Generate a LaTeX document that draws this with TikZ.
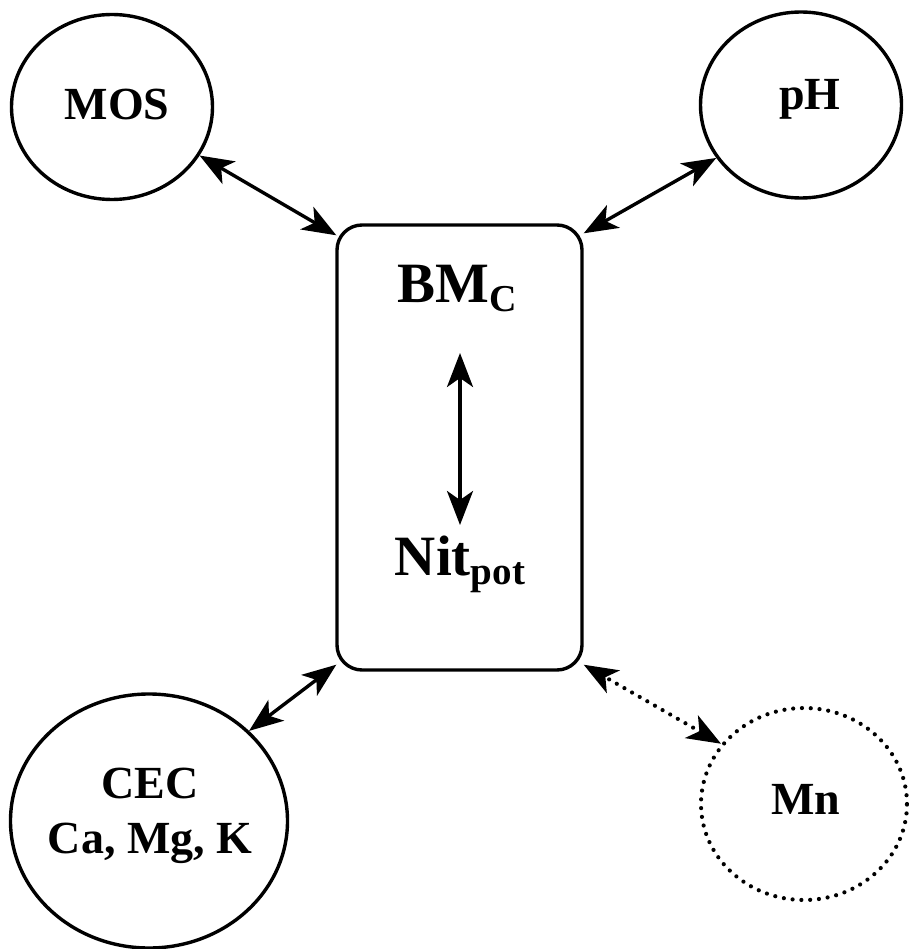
\documentclass[tikz,border=0pt]{standalone}
\usepackage{fontspec}
\setmainfont{Liberation Serif}
\usetikzlibrary{arrows.meta,shapes.geometric,calc}
\begin{document}
\begin{tikzpicture}[x=1pt,y=-1pt,
  bub/.style={ellipse,draw,line width=3.4pt,inner sep=0pt},
  dotbub/.style={ellipse,draw,line width=4.2pt,inner sep=0pt,line cap=round,dash pattern=on 0pt off 8.8pt},
  lbl/.style={font=\bfseries\fontsize{46}{50}\selectfont,inner sep=0pt,anchor=base},
  big/.style={font=\bfseries\fontsize{57}{60}\selectfont,inner sep=0pt,anchor=base},
  mytip/.tip={Stealth[length=34pt,width=26pt,inset=9pt]},
  link/.style={line width=3.4pt,mytip-mytip},
  dotlink/.style={line width=4.2pt,line cap=round,dash pattern=on 0pt off 8.8pt,mytip-mytip}]
\useasboundingbox (0,0) rectangle (908,949);
\fill[white] (0,0) rectangle (908,949);
% outer nodes
\node[bub,minimum width=201pt,minimum height=185pt] (mos) at (112,107) {};
\node[lbl] (mostx) at (117,120) {MOS};
\node[bub,minimum width=201pt,minimum height=186pt] (ph) at (801,105) {};
\node[lbl] (phtx) at (810,110) {pH};
\node[bub,minimum width=277pt,minimum height=254pt] (cec) at (149,821) {};
\node[lbl] (cec1) at (150,798) {CEC};
\node[lbl] (cec2) at (150,853) {Ca, Mg, K};
\node[dotbub,minimum width=206pt,minimum height=192pt] (mn) at (804,804) {};
\node[lbl] (mntx) at (806,814) {Mn};
% central box
\node[draw,rounded corners=25pt,line width=3.4pt,minimum width=245pt,minimum height=445pt,inner sep=0pt] (box) at (459.5,447.5) {};
\node[big] (bm) at (457,302) {BM\raisebox{-9pt}{\fontsize{38}{40}\selectfont C}};
\node[big] (nit) at (460,575) {Nit\raisebox{-9pt}{\fontsize{39}{40}\selectfont pot}};
\coordinate (vtop) at (460,353);
\coordinate (vbot) at (460,525);
\draw[link] (vtop) -- (vbot);
% connectors
\draw[link] (mos.-29) -- ($(box.north west)+(1,12)$);
\draw[link] (ph.212) -- ($(box.north east)+(0,10)$);
\draw[link] (cec.42) -- ($(box.south west)+(1,-7)$);
\draw[dotlink] (mn.144) -- ($(box.south east)+(0,-7)$);
\end{tikzpicture}
\end{document}
